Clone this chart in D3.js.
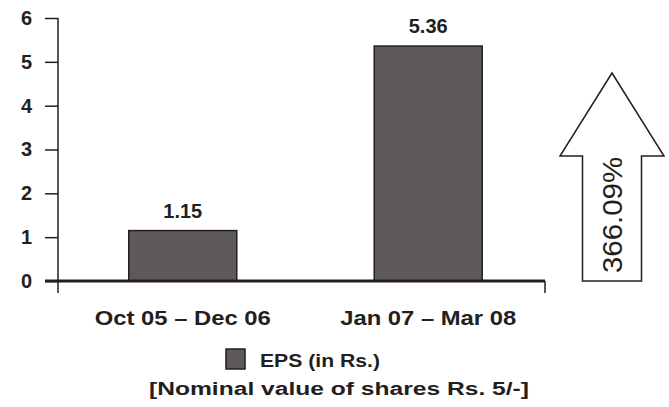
<!DOCTYPE html>
<html>
<head>
<meta charset="utf-8">
<script src="https://cdn.jsdelivr.net/npm/d3@7"></script>
<style>
  body { margin: 0; background: #fff; }
  svg { font-family: "Liberation Sans", Arial, sans-serif; }
</style>
</head>
<body>
<svg id="chart" width="669" height="407"></svg>
<script>
// chart data
var categories = ['Oct 05 \u2013 Dec 06', 'Jan 07 \u2013 Mar 08'];
var eps = [1.15, 5.36];
var yTicks = [0, 1, 2, 3, 4, 5, 6];
var growthLabel = '366.09%';
var seriesName = 'EPS (in Rs.)';
var note = '[Nominal value of shares Rs. 5/-]';

var svg = d3.select('#chart');
var ink = '#231f20';
var fill = '#5e5a5a';

var x = d3.scaleBand().domain(categories).range([62, 549]).paddingInner(0.56).paddingOuter(0.272);
var y = d3.scaleLinear().domain([0, 6]).range([281, 18]);

// y axis
var yAxis = svg.append('g').attr('transform', 'translate(58,0)')
    .call(d3.axisLeft(y).tickValues(yTicks).tickFormat(d3.format('d')).tickSize(13).tickPadding(13));
yAxis.select('.domain').remove();
yAxis.selectAll('line').attr('stroke', ink).attr('stroke-width', 1.5);
yAxis.selectAll('text').attr('font-size', 20).attr('font-weight', 'bold').attr('fill', ink);
svg.append('line').attr('x1', 58).attr('x2', 58).attr('y1', y(6)).attr('y2', 293)
    .attr('stroke', ink).attr('stroke-width', 1.5);

// bars
svg.selectAll('.bar').data(eps).enter().append('rect')
    .attr('class', 'bar')
    .attr('x', function(d, i) { return x(categories[i]); })
    .attr('y', function(d) { return y(d); })
    .attr('width', x.bandwidth())
    .attr('height', function(d) { return y(0) - y(d); })
    .attr('fill', fill)
    .attr('stroke', ink)
    .attr('stroke-width', 1.5);

// x axis
svg.append('line').attr('x1', 45).attr('x2', 545).attr('y1', y(0)).attr('y2', y(0))
    .attr('stroke', ink).attr('stroke-width', 3);
svg.append('line').attr('x1', 545).attr('x2', 545).attr('y1', y(0)).attr('y2', 293)
    .attr('stroke', ink).attr('stroke-width', 1.5);
svg.selectAll('.xlab').data(categories).enter().append('text')
    .attr('class', 'xlab')
    .attr('x', function(d) { return x(d) + x.bandwidth() / 2; })
    .attr('y', 325)
    .attr('text-anchor', 'middle')
    .attr('font-size', 20).attr('font-weight', 'bold').attr('fill', ink)
    .attr('textLength', 176).attr('lengthAdjust', 'spacingAndGlyphs')
    .text(function(d) { return d; });

// value labels
svg.selectAll('.val').data(eps).enter().append('text')
    .attr('class', 'val')
    .attr('x', function(d, i) { return x(categories[i]) + x.bandwidth() / 2; })
    .attr('y', function(d) { return y(d) - 13; })
    .attr('text-anchor', 'middle')
    .attr('font-size', 20).attr('font-weight', 'bold').attr('fill', ink)
    .text(function(d) { return d.toFixed(2); });

// growth arrow
var ax = 612, tipY = 73, headY = 156, headHalf = 52, shaftHalf = 29.5;
var arrow = d3.path();
arrow.moveTo(ax, tipY);
arrow.lineTo(ax + headHalf, headY);
arrow.lineTo(ax + shaftHalf, headY);
arrow.lineTo(ax + shaftHalf, y(0));
arrow.lineTo(ax - shaftHalf, y(0));
arrow.lineTo(ax - shaftHalf, headY);
arrow.lineTo(ax - headHalf, headY);
arrow.closePath();
svg.append('path').attr('d', arrow.toString())
    .attr('fill', '#fff').attr('stroke', ink).attr('stroke-width', 1.5);
svg.append('text')
    .attr('transform', 'translate(' + (ax + 10) + ',215) rotate(-90)')
    .attr('text-anchor', 'middle')
    .attr('font-size', 28).attr('fill', ink)
    .attr('textLength', 116).attr('lengthAdjust', 'spacingAndGlyphs')
    .text(growthLabel);

// legend
svg.append('rect').attr('x', 226).attr('y', 349).attr('width', 19).attr('height', 20)
    .attr('fill', fill).attr('stroke', ink).attr('stroke-width', 1.5);
svg.append('text').attr('x', 260).attr('y', 367)
    .attr('font-size', 18).attr('font-weight', 'bold').attr('fill', ink)
    .attr('textLength', 120).attr('lengthAdjust', 'spacingAndGlyphs')
    .text(seriesName);
svg.append('text').attr('x', 339).attr('y', 395)
    .attr('text-anchor', 'middle')
    .attr('font-size', 18).attr('font-weight', 'bold').attr('fill', ink)
    .attr('textLength', 380).attr('lengthAdjust', 'spacingAndGlyphs')
    .text(note);
</script>
</body>
</html>
